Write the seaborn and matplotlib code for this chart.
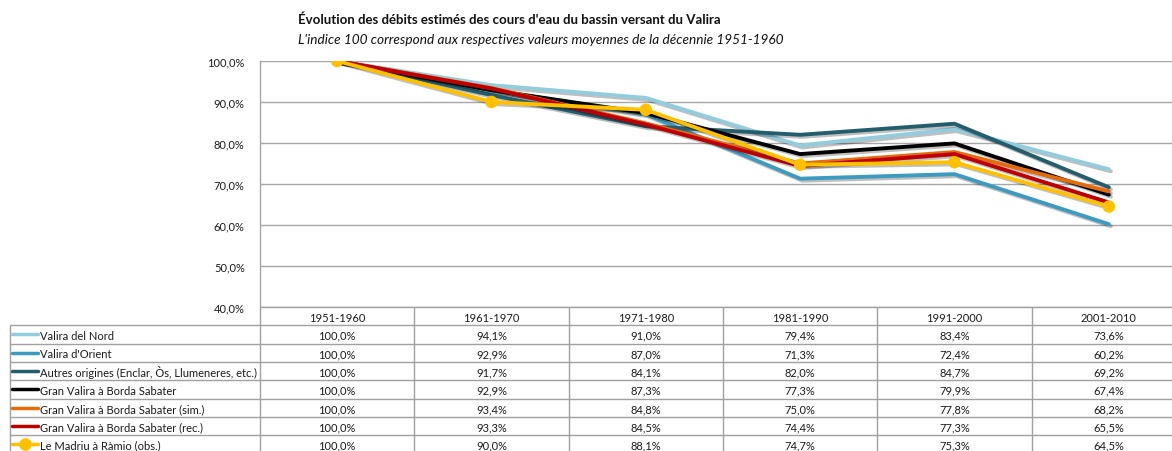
import numpy as np
import pandas as pd
import matplotlib
matplotlib.use('Agg')
import matplotlib.pyplot as plt
import matplotlib.patheffects as pe
import seaborn as sns

# data
decades = ['1951-1960', '1961-1970', '1971-1980', '1981-1990', '1991-2000', '2001-2010']
series_names = ['Valira del Nord', "Valira d'Orient",
                'Autres origines (Enclar, Òs, Llumeneres, etc.)',
                'Gran Valira à Borda Sabater', 'Gran Valira à Borda Sabater (sim.)',
                'Gran Valira à Borda Sabater (rec.)', 'Le Madriu à Ràmio (obs.)']
valira_nord = [100.0, 94.1, 91.0, 79.4, 83.4, 73.6]
valira_orient = [100.0, 92.9, 87.0, 71.3, 72.4, 60.2]
autres = [100.0, 91.7, 84.1, 82.0, 84.7, 69.2]
gran_valira = [100.0, 92.9, 87.3, 77.3, 79.9, 67.4]
gran_valira_sim = [100.0, 93.4, 84.8, 75.0, 77.8, 68.2]
gran_valira_rec = [100.0, 93.3, 84.5, 74.4, 77.3, 65.5]
madriu = [100.0, 90.0, 88.1, 74.7, 75.3, 64.5]
colors = ['#93CDDD', '#3E9BC0', '#245E6C', '#000000', '#E46C0A', '#C00000', '#FFC000']

values = [valira_nord, valira_orient, autres, gran_valira, gran_valira_sim, gran_valira_rec, madriu]
df = pd.DataFrame({'serie': np.repeat(series_names, len(decades)),
                   'pos': np.tile(np.arange(len(decades)), len(series_names)),
                   'val': np.concatenate(values)})

sns.set_theme(style='white')
plt.rcParams['font.family'] = ['Lato', 'DejaVu Sans']

W, H = 1172, 452
fig = plt.figure(figsize=(W / 100, H / 100), dpi=100)
x0, x1, ytop, ybot = 260, 1186, 62, 308
ax = fig.add_axes([x0 / W, (H - ybot) / H, (x1 - x0) / W, (ybot - ytop) / H])

shadow = [pe.SimpleLineShadow(offset=(1.5, -1.5), shadow_color='black', alpha=0.25), pe.Normal()]
for name, col in zip(series_names, colors):
    sub = df[df['serie'] == name]
    kw = dict(marker='o', markersize=9, markeredgewidth=0) if 'Madriu' in name else {}
    sns.lineplot(data=sub, x='pos', y='val', color=col, lw=2.8, ax=ax,
                 path_effects=shadow, legend=False, **kw)

ax.set_xlim(-0.5, 5.5)
ax.set_ylim(40, 100)
ax.set_yticks(np.arange(40, 101, 10))
ax.set_yticklabels(['{:.1f}%'.format(v).replace('.', ',') for v in np.arange(40, 101, 10)],
                   fontsize=8, color='#1a1a1a')
ax.set_xticks([])
ax.set_xlabel('')
ax.set_ylabel('')
ax.tick_params(axis='y', length=0, pad=11)
ax.yaxis.grid(True, color='#A6A6A6', lw=1)
for s in ['top', 'right', 'bottom']:
    ax.spines[s].set_visible(False)
ax.spines['left'].set_color('#A6A6A6')
ax.spines['left'].set_linewidth(1)

# data table under the chart
rh = 18.3
n = len(series_names)
tab = fig.add_axes([x0 / W, (H - ybot - rh * (n + 1)) / H, (x1 - x0) / W, rh * (n + 1) / H])
tab.set_xlim(-0.5, 5.5)
tab.set_ylim(n + 1, 0)
tab.axis('off')
px = (x1 - x0) / 6.0
lx = -0.5 + (10 - x0) / px
gc = '#A0A0A0'
tab.hlines(0, -0.5, 5.5, color=gc, lw=1, clip_on=False)
tab.hlines(np.arange(1, n + 2), lx, 5.5, color=gc, lw=1, clip_on=False)
tab.vlines(np.arange(-0.5, 5.6, 1), 0, n + 1, color=gc, lw=1, clip_on=False)
tab.vlines(lx, 1, n + 1, color=gc, lw=1, clip_on=False)
for j, d in enumerate(decades):
    tab.text(j, 0.55, d, ha='center', va='center', fontsize=8, color='#1a1a1a')
for i, (name, col, vals) in enumerate(zip(series_names, colors, values)):
    r = i + 1.55
    k0, k1 = -0.5 + (12 - x0) / px, -0.5 + (38 - x0) / px
    mk = dict(marker='o', markersize=8, markevery=[1]) if 'Madriu' in name else {}
    tab.plot([k0, (k0 + k1) / 2, k1], [r - 0.05] * 3, color=col, lw=2.5, clip_on=False, **mk)
    tab.text(-0.5 + (40 - x0) / px, r, name, ha='left', va='center', fontsize=8, color='#1a1a1a')
    for j, v in enumerate(vals):
        tab.text(j, r, '{:.1f}%'.format(v).replace('.', ','), ha='center', va='center',
                 fontsize=8, color='#1a1a1a')

fig.text(298 / W, 1 - 20 / H, "Évolution des débits estimés des cours d'eau du bassin versant du Valira",
         fontsize=9.5, fontweight='bold', va='center', ha='left', color='#111111')
fig.text(298 / W, 1 - 40 / H, "L'indice 100 correspond aux respectives valeurs moyennes de la décennie 1951-1960",
         fontsize=9.8, style='italic', va='center', ha='left', color='#111111')

fig.savefig('out.png', dpi=100)
